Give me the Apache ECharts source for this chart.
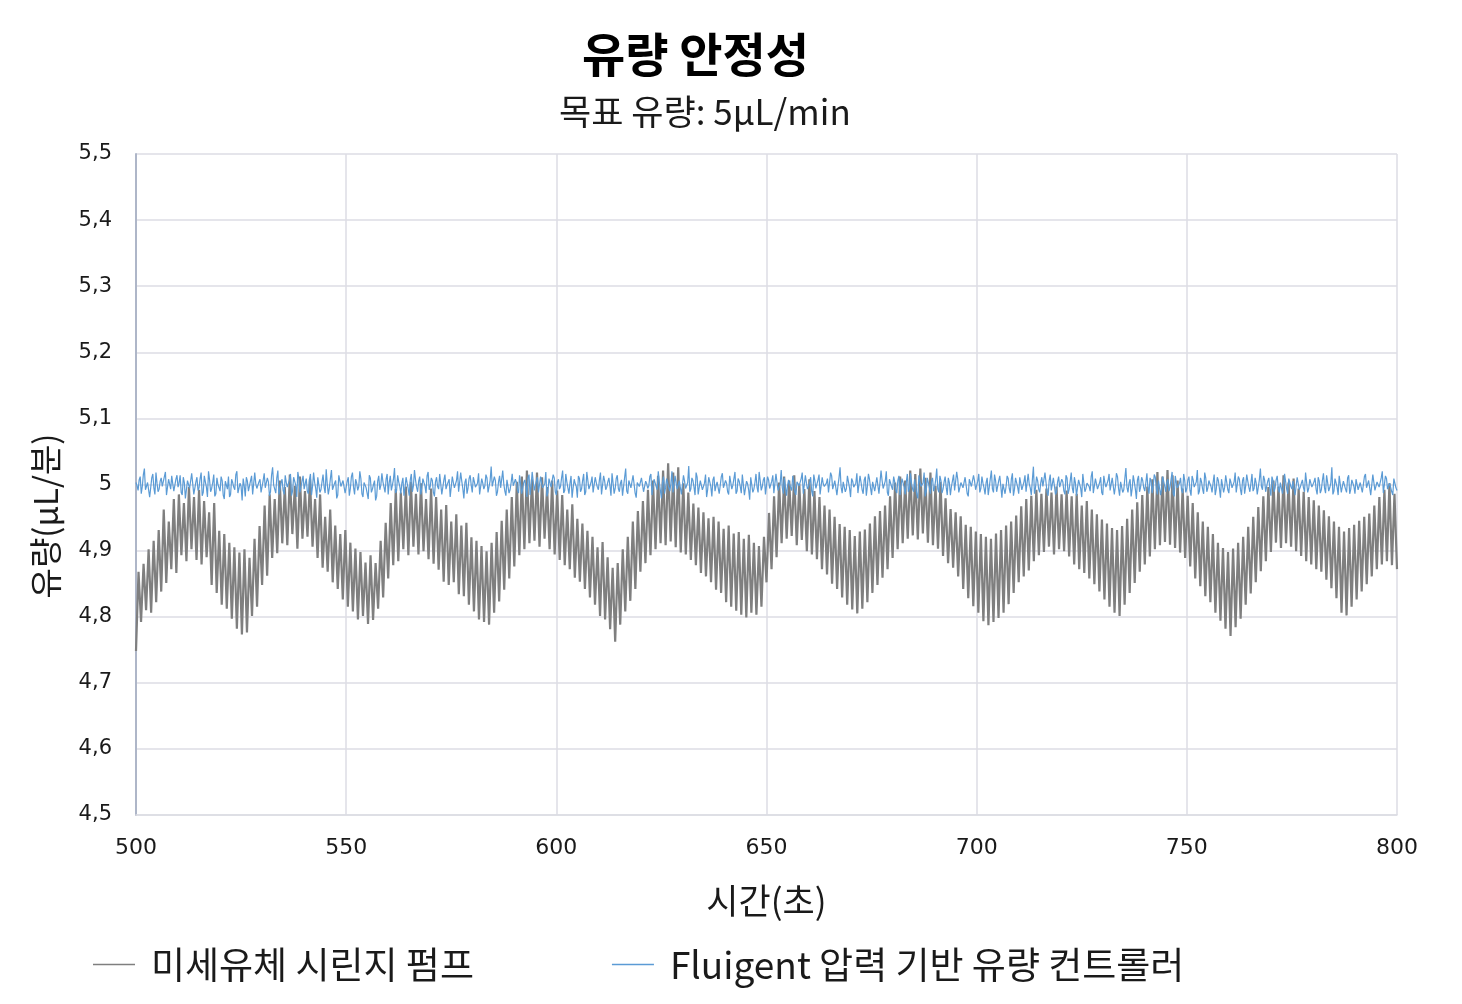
<!DOCTYPE html>
<html>
<head>
<meta charset="utf-8">
<script src="https://cdn.jsdelivr.net/npm/echarts@6/dist/echarts.min.js"></script>
<style>html,body{margin:0;padding:0;background:#fff}#c{width:1462px;height:1004px}</style>
</head>
<body>
<div id="c"></div>
<script>
// ---- data ----
const titleText = '유량 안정성';
const subtitleText = '목표 유량: 5μL/min';
const xAxisName = '시간(초)';
const yAxisName = '유량(μL/분)';
const seriesNames = ['미세유체 시린지 펌프', 'Fluigent 압력 기반 유량 컨트롤러'];
const xTicks = { min: 500, max: 800, interval: 50 };
const yTicks = { min: 4.5, max: 5.5, interval: 0.1 };
// sample grid (seconds)
const syringeStart = 500, syringeStep = 0.6;
const fluigentStart = 500, fluigentStep = 0.25;

// syringe pump flow (µL/min)
const syringeValues = [
4.748,4.868,4.792,4.880,4.810,4.902,4.806,4.915,4.822,4.931,
4.838,4.962,4.851,4.944,4.872,4.978,4.866,4.985,4.893,4.972,
4.884,4.996,4.902,4.981,4.886,4.992,4.879,4.975,4.890,4.958,
4.848,4.972,4.836,4.930,4.818,4.925,4.812,4.912,4.797,4.905,
4.782,4.897,4.773,4.902,4.776,4.889,4.801,4.918,4.815,4.937,
4.848,4.968,4.862,4.985,4.889,4.978,4.896,5.006,4.911,4.996,
4.908,5.015,4.925,4.998,4.903,5.012,4.918,4.990,4.921,5.008,
4.906,4.978,4.889,4.985,4.874,4.951,4.868,4.962,4.852,4.938,
4.842,4.925,4.826,4.931,4.815,4.912,4.808,4.903,4.796,4.898,
4.801,4.882,4.789,4.893,4.795,4.881,4.812,4.915,4.829,4.942,
4.858,4.972,4.878,4.993,4.884,4.988,4.902,4.997,4.893,5.004,
4.906,4.986,4.894,5.002,4.899,4.978,4.887,4.994,4.880,4.981,
4.871,4.962,4.853,4.969,4.848,4.944,4.852,4.955,4.834,4.938,
4.831,4.942,4.818,4.920,4.808,4.915,4.796,4.907,4.792,4.899,
4.788,4.912,4.806,4.928,4.823,4.945,4.841,4.962,4.858,4.981,
4.876,5.004,4.893,5.012,4.902,5.021,4.911,5.008,4.915,5.018,
4.906,5.011,4.918,4.996,4.902,5.006,4.894,4.991,4.886,4.984,
4.878,4.962,4.872,4.970,4.859,4.948,4.853,4.941,4.842,4.930,
4.829,4.921,4.818,4.905,4.801,4.913,4.796,4.890,4.781,4.874,
4.762,4.881,4.788,4.902,4.808,4.921,4.824,4.944,4.842,4.960,
4.868,4.975,4.881,4.992,4.893,5.006,4.902,5.013,4.911,5.021,
4.908,5.032,4.914,5.018,4.905,5.026,4.897,5.002,4.894,4.988,
4.886,4.971,4.878,4.965,4.866,4.958,4.861,4.949,4.852,4.951,
4.841,4.944,4.836,4.933,4.822,4.938,4.815,4.926,4.809,4.928,
4.803,4.918,4.799,4.924,4.806,4.912,4.803,4.907,4.815,4.921,
4.852,4.957,4.872,4.982,4.890,5.003,4.911,5.012,4.918,5.006,
4.922,5.014,4.908,5.001,4.916,4.993,4.899,5.008,4.894,4.990,
4.887,4.981,4.872,4.968,4.864,4.962,4.850,4.951,4.842,4.940,
4.829,4.936,4.818,4.931,4.811,4.922,4.805,4.929,4.812,4.932,
4.822,4.941,4.836,4.952,4.848,4.960,4.859,4.968,4.872,4.982,
4.889,5.003,4.902,5.012,4.911,5.006,4.918,5.021,4.923,5.016,
4.917,5.024,4.926,5.010,4.912,5.018,4.908,4.998,4.903,5.004,
4.892,4.979,4.881,4.963,4.874,4.958,4.861,4.952,4.842,4.939,
4.828,4.936,4.816,4.929,4.806,4.925,4.793,4.921,4.787,4.918,
4.792,4.926,4.798,4.931,4.806,4.938,4.819,4.944,4.836,4.953,
4.852,4.967,4.861,4.978,4.870,4.983,4.884,4.992,4.893,4.986,
4.898,4.994,4.906,4.988,4.894,4.997,4.902,4.985,4.899,4.991,
4.891,4.982,4.879,4.986,4.872,4.968,4.866,4.975,4.858,4.962,
4.849,4.955,4.838,4.947,4.826,4.941,4.815,4.934,4.806,4.931,
4.801,4.937,4.818,4.948,4.836,4.962,4.851,4.973,4.868,4.984,
4.879,4.997,4.891,5.008,4.902,5.019,4.908,5.012,4.913,5.022,
4.909,5.014,4.904,5.006,4.897,4.994,4.889,4.983,4.876,4.972,
4.858,4.958,4.846,4.944,4.831,4.936,4.822,4.925,4.806,4.912,
4.794,4.904,4.782,4.898,4.771,4.903,4.784,4.912,4.797,4.921,
4.818,4.936,4.835,4.951,4.852,4.966,4.869,4.982,4.884,4.996,
4.898,5.006,4.912,4.997,4.904,5.014,4.911,5.003,4.906,5.009,
4.899,4.994,4.892,4.989,4.884,4.981,4.879,4.976,4.872,4.968,
4.868,4.961,4.856,4.952,4.843,4.944,4.828,4.936,4.806,4.929,
4.802,4.934,4.815,4.939,4.826,4.945,4.838,4.951,4.849,4.956,
4.861,4.968,4.872,4.981,4.879,4.992,4.884,5.002,4.878,4.986,
4.872
];

// Fluigent controller flow (µL/min) at whole/half seconds
const fluigentMain = [
5.003,4.991,5.012,4.997,5.024,4.989,5.006,4.995,5.016,4.985,5.002,4.993,5.010,4.998,5.019,4.987,5.005,5.013,4.990,5.008,
4.996,5.014,4.984,5.003,4.979,5.009,4.992,5.001,4.983,5.011,4.995,5.018,4.988,5.004,4.981,5.007,4.994,5.015,4.986,5.000,
4.990,5.006,4.978,4.999,5.012,4.985,5.003,4.992,5.020,4.988,4.997,5.009,4.982,5.005,4.993,5.013,4.984,5.001,4.996,5.008,
4.987,5.017,4.994,5.004,4.989,5.026,4.998,5.010,4.985,5.002,4.991,5.014,4.996,5.007,4.983,5.011,4.999,5.019,4.988,5.005,
4.993,5.009,4.986,5.016,4.997,5.003,4.980,5.008,4.992,5.015,4.987,5.001,4.995,5.022,4.990,5.006,4.984,5.012,4.998,5.004,
4.989,5.011,4.994,5.018,4.985,5.002,4.997,5.009,4.981,5.006,4.993,5.014,4.988,5.000,4.976,5.005,4.992,5.017,4.996,5.008,
4.985,5.013,4.999,5.025,4.991,5.004,4.986,5.010,4.995,5.002,4.983,5.016,4.998,5.007,4.989,5.012,4.994,5.003,4.987,5.019,
4.997,5.006,4.982,5.011,4.993,5.001,4.988,5.015,4.999,5.008,4.984,5.003,4.996,5.020,4.990,5.005,4.979,5.009,4.995,5.014,
4.988,5.004,4.993,5.017,4.986,5.002,4.998,5.010,4.985,5.027,4.994,5.006,4.989,5.013,4.997,5.001,4.983,5.008,4.992,5.016,
4.996,5.003,4.987,5.012,4.994,5.007,4.981,5.015,4.998,5.005,4.990,5.011,4.986,5.002,4.995,5.019,4.988,5.006,4.993,5.010,
4.984,5.008,4.997,5.021,4.991,5.004,4.986,5.013,4.995,5.001,4.980,5.009,4.993,5.016,4.989,5.006,4.998,5.012,4.985,5.003,
4.992,5.018,4.987,5.005,4.996,5.010,4.983,5.002,4.994,5.014,4.989,5.007,4.997,5.024,4.986,5.003,4.993,5.011,4.980,5.006,
4.995,5.013,4.988,5.001,4.998,5.016,4.985,5.008,4.992,5.004,4.979,5.012,4.996,5.007,4.990,5.020,4.987,5.002,4.994,5.009,
4.986,5.005,4.997,5.028,4.993,5.006,4.984,5.011,4.996,5.003,4.989,5.015,4.992,5.008,4.982,5.012,4.998,5.004,4.988,5.017,
4.994,5.002,4.985,5.010,4.999,5.019,4.990,5.005,4.987,5.013,4.995,5.001,4.977,5.008,4.993,5.016,4.988,5.006,4.997,5.011,
4.983,5.007,4.996,5.014,4.989,5.003,4.994,5.022,4.986,5.009,4.998,5.004,4.991,5.012,4.984,5.006,4.995,5.018,4.989,5.002,
4.997,5.011,4.982,5.006,4.993,5.015,4.988,5.001,4.996,5.009,4.985,5.013,4.992,5.004,4.998,5.026,4.987,5.007,4.994,5.010,
4.981,5.005,4.995,5.017,4.990,5.003,4.986,5.012,4.997,5.008,4.984,5.001,4.993,5.014,4.988,5.006,4.996,5.020,4.983,5.009,
4.992,5.004,4.987,5.013,4.998,5.007,4.985,5.016,4.994,5.002,4.989,5.011,4.979,5.005,4.996,5.018,4.990,5.003,4.986,5.010,
4.995,5.024,4.988,5.006,4.993,5.012,4.984,5.003,4.997,5.015,4.990,5.008,4.986,5.001,4.994,5.013,4.982,5.007,4.998,5.005,
4.989,5.016,4.994,5.002,4.985,5.010,4.996,5.021,4.988,5.006,4.992,5.013,4.980,5.004,4.997,5.009,4.987,5.017,4.993,5.003,
4.986,5.008,4.998,5.014,4.991,5.001,4.984,5.027,4.995,5.006,4.988,5.011,4.996,5.003,4.983,5.015,4.992,5.007,4.989,5.012,
4.997,5.004,4.985,5.010,4.993,5.018,4.987,5.002,4.996,5.009,4.981,5.013,4.994,5.005,4.990,5.020,4.986,5.006,4.998,5.011,
4.984,5.003,4.995,5.016,4.989,5.007,4.997,5.012,4.983,5.001,4.992,5.025,4.988,5.008,4.994,5.004,4.978,5.013,4.996,5.006,
4.990,5.017,4.986,5.005,4.998,5.011,4.985,5.003,4.993,5.014,4.989,5.008,4.996,5.019,4.982,5.002,4.995,5.010,4.987,5.006,
4.994,5.012,4.983,5.007,4.997,5.022,4.990,5.004,4.986,5.010,4.995,5.001,4.988,5.015,4.993,5.006,4.980,5.009,4.996,5.013,
4.987,5.003,4.996,5.018,4.991,5.008,4.984,5.011,4.998,5.005,4.989,5.016,4.994,5.002,4.985,5.024,4.992,5.007,4.997,5.010,
4.983,5.006,4.995,5.013,4.988,5.001,4.997,5.019,4.986,5.009,4.993,5.004,4.981,5.012,4.996,5.007,4.989,5.015,4.994,5.002,
4.998,5.010,4.985,5.005,4.992,5.017,4.987,5.003,4.995,5.026,4.990,5.008,4.984,5.012,4.997,5.004,4.988,5.014,4.993,5.006,
4.986,5.011,4.994,5.003,4.989,5.016,4.996,5.007,4.982,5.013,4.993,5.005,4.998,5.020,4.987,5.009,4.995,5.002,4.984,5.012,
4.991
];
// Fluigent controller flow at the quarter-second samples in between
const fluigentBetween = [
4.998,5.007,4.986,5.015,4.992,5.003,4.981,5.010,4.995,5.018,4.989,5.005,4.997,5.012,4.984,5.008,4.993,5.001,4.987,5.014,
5.002,4.988,5.011,4.979,5.006,4.994,5.017,4.985,5.004,4.991,5.009,4.983,5.013,4.996,5.020,4.989,5.003,4.982,5.010,4.995,
5.012,4.984,5.005,4.993,4.981,5.008,4.996,5.015,4.987,5.002,4.976,4.998,5.011,4.990,5.006,4.985,5.018,4.994,5.004,4.988,
5.006,4.995,5.010,4.983,5.014,4.999,4.987,5.021,4.993,5.008,4.985,5.003,4.997,5.016,4.990,5.005,4.981,5.009,4.996,5.013,
5.001,4.990,5.007,4.984,5.018,4.994,5.011,4.988,5.004,4.996,5.023,4.985,5.009,4.992,5.002,4.979,5.014,4.997,5.006,4.987,
5.005,4.983,5.012,4.996,5.008,4.991,5.020,4.986,5.003,4.995,4.978,5.010,4.993,5.006,4.982,5.013,4.999,5.004,4.988,5.016,
5.003,4.991,5.008,4.987,5.014,4.997,5.002,4.983,5.011,4.994,5.007,4.989,5.022,4.996,5.005,4.985,5.009,4.998,5.013,4.992,
5.010,4.988,5.004,4.997,5.016,4.985,5.007,4.993,5.001,4.981,5.012,4.995,5.006,4.989,5.018,4.994,5.003,4.986,5.009,4.999,
5.011,4.996,5.002,4.985,5.009,4.993,5.015,4.988,5.006,4.997,5.012,4.983,5.004,4.995,5.021,4.990,5.007,4.987,5.003,4.998,
5.008,4.992,5.014,4.986,5.003,4.997,5.010,4.984,5.019,4.991,5.005,4.988,5.012,4.995,5.001,4.982,5.009,4.996,5.015,4.989,
5.004,4.993,5.010,4.987,5.016,4.995,5.002,4.980,5.008,4.997,5.013,4.989,5.006,4.984,5.019,4.993,5.003,4.988,5.011,4.996,
5.007,4.985,5.013,4.992,5.004,4.998,5.017,4.986,5.009,4.994,5.002,4.983,5.011,4.990,5.006,4.995,5.014,4.987,5.003,4.997,
5.010,4.989,5.005,4.994,5.012,4.984,5.008,4.997,5.020,4.991,5.003,4.986,5.009,4.995,5.001,4.988,5.013,4.993,5.006,4.985,
5.014,4.994,5.003,4.989,5.010,4.996,5.018,4.985,5.006,4.992,5.002,4.981,5.011,4.997,5.007,4.990,5.004,4.986,5.012,4.995,
5.006,4.989,5.013,4.993,5.002,4.986,5.009,4.997,5.015,4.984,5.005,4.992,5.011,4.988,5.003,4.996,5.019,4.991,5.007,4.985,
5.012,4.994,5.005,4.987,5.016,4.991,5.001,4.996,5.010,4.983,5.007,4.995,5.013,4.989,5.004,4.998,5.009,4.986,5.014,4.993,
5.003,4.990,5.015,4.994,5.007,4.985,5.011,4.997,5.002,4.988,5.018,4.993,5.006,4.984,5.010,4.996,5.004,4.989,5.013,4.995,
5.009,4.996,5.002,4.987,5.013,4.992,5.007,4.983,5.016,4.995,5.004,4.990,5.011,4.986,5.021,4.994,5.005,4.988,5.008,4.997,
5.012,4.991,5.006,4.984,5.009,4.996,5.003,4.989,5.017,4.993,5.008,4.985,5.014,4.997,5.002,4.982,5.010,4.995,5.005,4.990,
5.007,4.993,5.013,4.987,5.004,4.996,5.010,4.984,5.006,4.991,5.019,4.988,5.003,4.995,5.011,4.986,5.008,4.997,5.014,4.992,
5.005,4.988,5.012,4.995,5.003,4.984,5.009,4.993,5.015,4.989,5.006,4.997,5.001,4.986,5.013,4.994,5.008,4.983,5.010,4.996,
5.011,4.992,5.004,4.989,5.016,4.995,5.007,4.986,5.012,4.993,5.003,4.997,5.018,4.988,5.006,4.991,5.010,4.985,5.004,4.996,
5.008,4.990,5.014,4.986,5.005,4.995,5.011,4.983,5.007,4.994,5.016,4.989,5.002,4.997,5.012,4.987,5.009,4.993,5.003,4.988,
5.013,4.996,5.006,4.991,5.010,4.985,5.017,4.994,5.004,4.988,5.009,4.996,5.002,4.982,5.014,4.993,5.007,4.989,5.011,4.995,
5.003,4.994,5.010,4.987,5.015,4.993,5.006,4.984,5.012,4.997,5.004,4.990,5.008,4.986,5.013,4.995,5.002,4.991,5.016,4.988,
5.007,4.991,5.013,4.996,5.004,4.985,5.010,4.993,5.018,4.989,5.006,4.997,5.003,4.984,5.011,4.994,5.008,4.988,5.014,4.992,
5.009,4.995,5.004,4.988,5.012,4.993,5.006,4.986,5.015,4.996,5.002,4.990,5.010,4.985,5.007,4.997,5.013,4.989,5.005,4.994,
5.012,4.989,5.007,4.994,5.003,4.986,5.016,4.993,5.009,4.997,5.005,4.984,5.011,4.992,5.002,4.995,5.018,4.988,5.008,4.996,
5.004,4.993,5.011,4.987,5.006,4.995,5.014,4.990,5.002,4.985,5.009,4.996,5.013,4.988,5.005,4.993,5.010,4.986,5.007,4.997,
5.008,4.992,5.003,4.988,5.012,4.995,5.006,4.984,5.015,4.991,5.004,4.996,5.010,4.987,5.013,4.993,5.002,4.989,5.009,4.995
];

// ---- chart ----
const syringeData = syringeValues.map((v, i) => [syringeStart + i * syringeStep, v]);
const fluigentValues = [];
fluigentMain.forEach((v, i) => {
  fluigentValues.push(v);
  if (i < fluigentBetween.length) fluigentValues.push(fluigentBetween[i]);
});
const fluigentData = fluigentValues.map((v, i) => [fluigentStart + i * fluigentStep, v]);

const tickFont = '"DejaVu Sans", sans-serif';
const krFont = '"Noto Sans CJK KR", "Noto Sans", sans-serif';
const gridColor = '#dcdde4';

const chart = echarts.init(document.getElementById('c'), null, { renderer: 'canvas' });
chart.setOption({
  backgroundColor: '#ffffff',
  animation: false,
  title: [
    { text: titleText, left: 577, top: 26, textStyle: { fontFamily: krFont, fontSize: 47, fontWeight: 'bold', color: '#000' } },
    { text: subtitleText, left: 554, top: 89, textStyle: { fontFamily: krFont, fontSize: 35, fontWeight: 'normal', color: '#1a1a1a' } }
  ],
  grid: { left: 136, right: 65, top: 154, bottom: 189, containLabel: false },
  legend: {
    data: seriesNames,
    left: 88, top: 941,
    icon: 'rect', itemWidth: 42, itemHeight: 1.5, itemGap: 138,
    textStyle: { fontFamily: krFont, fontSize: 37, color: '#1a1a1a', padding: [0, 0, 0, 11] }
  },
  xAxis: {
    type: 'value', min: xTicks.min, max: xTicks.max, interval: xTicks.interval,
    name: xAxisName, nameLocation: 'middle', nameGap: 68,
    nameTextStyle: { fontFamily: krFont, fontSize: 35, color: '#1a1a1a' },
    axisLine: { show: true, lineStyle: { color: gridColor, width: 1.5 } },
    axisTick: { show: false },
    axisLabel: { fontFamily: tickFont, fontSize: 22, color: '#1a1a1a', margin: 22 },
    splitLine: { show: true, lineStyle: { color: gridColor, width: 1.5 } }
  },
  yAxis: {
    type: 'value', min: yTicks.min, max: yTicks.max, interval: yTicks.interval,
    axisLine: { show: true, onZero: false, lineStyle: { color: '#aeb6c8', width: 2 } },
    axisTick: { show: false },
    axisLabel: {
      fontFamily: tickFont, fontSize: 21, color: '#1a1a1a', margin: 24,
      formatter: v => String(Math.round(v * 10) / 10).replace('.', ',')
    },
    splitLine: { show: true, lineStyle: { color: gridColor, width: 1.5 } }
  },
  graphic: [
    { type: 'text', x: 45, y: 516, rotation: Math.PI / 2,
      style: { text: yAxisName, font: '33px "Noto Sans CJK KR", sans-serif', fill: '#1a1a1a', textAlign: 'center', textVerticalAlign: 'middle' } }
  ],
  series: [
    { name: seriesNames[0], type: 'line', data: syringeData, showSymbol: false, symbol: 'none',
      lineStyle: { color: '#7f7f7f', width: 2.2 }, itemStyle: { color: '#7f7f7f' }, z: 2 },
    { name: seriesNames[1], type: 'line', data: fluigentData, showSymbol: false, symbol: 'none',
      lineStyle: { color: '#5b9bd5', width: 1.2 }, itemStyle: { color: '#5b9bd5' }, z: 3 }
  ]
});
</script>
</body>
</html>
